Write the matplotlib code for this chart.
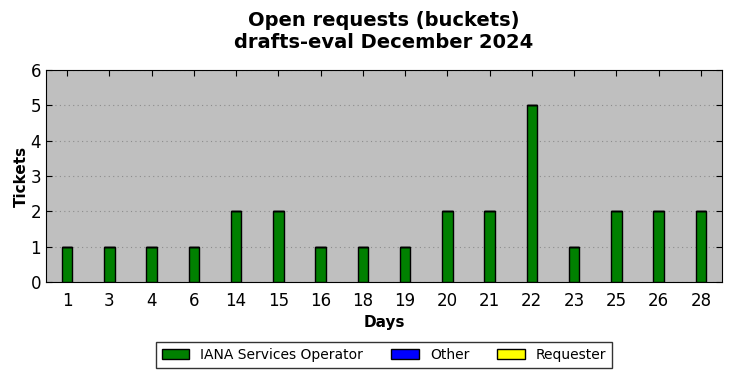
import matplotlib
matplotlib.use("Agg")
from matplotlib import pyplot as plt
import numpy as np

days = ["1", "3", "4", "6", "14", "15", "16", "18", "19", "20", "21", "22", "23", "25", "26", "28"]
iana = [1, 1, 1, 1, 2, 2, 1, 1, 1, 2, 2, 5, 1, 2, 2, 2]
other = [0] * len(days)
requester = [0] * len(days)

fig = plt.figure(figsize=(7.32, 3.78), dpi=100)
ax = fig.add_axes([46/732, 1 - 282/378, 676/732, 212/378])
ax.set_facecolor("#bfbfbf")

x = np.arange(len(days))
w = 0.25
b1 = ax.bar(x, iana, w, color="green", edgecolor="black", linewidth=1.0, label="IANA Services Operator", zorder=3)
b2 = ax.bar(x, other, w, bottom=iana, color="blue", edgecolor="black", linewidth=1.0, label="Other", zorder=3)
bottom2 = np.array(iana) + np.array(other)
b3 = ax.bar(x, requester, w, bottom=bottom2, color="yellow", edgecolor="black", linewidth=1.0, label="Requester", zorder=3)

ax.set_xlim(-0.5, len(days) - 0.5)
ax.set_ylim(0, 6)
ax.set_xticks(x)
ax.set_xticklabels(days)
ax.set_yticks(range(0, 7))
ax.tick_params(direction="in", top=True, right=True, labelsize=12, length=4)
ax.tick_params(axis="x", pad=7)
ax.yaxis.grid(True, linestyle=(0, (1, 3)), color="#8c8c8c", linewidth=0.8, zorder=0)
ax.set_axisbelow(True)

ax.set_xlabel("Days", fontsize=11, fontweight="bold")
ax.set_ylabel("Tickets", fontsize=11, fontweight="bold", labelpad=1)
ax.set_title("Open requests (buckets)\ndrafts-eval December 2024", fontsize=14, fontweight="bold", pad=16)

fig.legend(handles=[b1, b2, b3], loc="center", bbox_to_anchor=(384/732, 1 - 355/378), ncol=3,
           fontsize=10, frameon=True, fancybox=False, edgecolor="black", handlelength=2.0,
           columnspacing=2.0, borderpad=0.4)

fig.savefig("out.png", dpi=100, facecolor="white")
